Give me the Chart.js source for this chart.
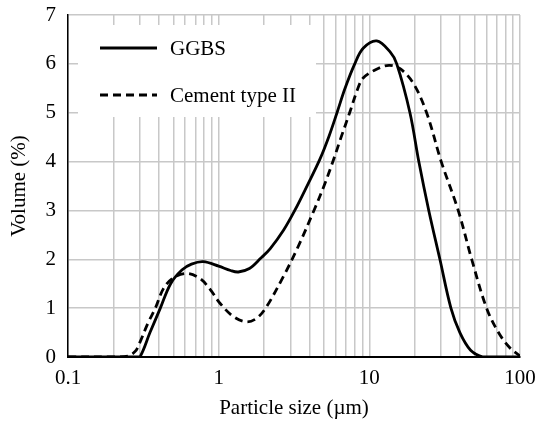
<!DOCTYPE html>
<html>
<head>
<meta charset="utf-8">
<script src="https://cdn.jsdelivr.net/npm/chart.js@4.4.1/dist/chart.umd.min.js"></script>
<style>
  html, body { margin: 0; padding: 0; background: #fff; }
  #wrap { width: 538px; height: 428px; }
</style>
</head>
<body>
<div id="wrap"><canvas id="psd" width="538" height="428"></canvas></div>
<script>
// 粒径分布曲线
const ggbsSize = [0.1, 0.2, 0.28, 0.3, 0.35, 0.41, 0.48, 0.57, 0.66, 0.79, 1.0, 1.2, 1.35, 1.6, 1.9, 2.2, 2.7, 3.2, 3.9, 4.7, 5.4, 6.1, 6.9, 8.0, 9.1, 11.2, 13.7, 15.2, 18.6, 21.3, 24.8, 29.4, 34.8, 39.9, 47, 57, 70, 100];
const ggbsVolume = [0, 0, 0, 0, 0.5, 1.0, 1.5, 1.78, 1.9, 1.95, 1.86, 1.77, 1.74, 1.81, 2.02, 2.22, 2.6, 3.0, 3.53, 4.05, 4.52, 5.0, 5.5, 6.0, 6.32, 6.47, 6.25, 6.0, 5.0, 4.0, 3.0, 2.0, 1.0, 0.5, 0.14, 0, 0, 0];

const cementSize = [0.1, 0.2, 0.25, 0.28, 0.3, 0.34, 0.38, 0.43, 0.5, 0.61, 0.75, 0.88, 1.02, 1.25, 1.53, 1.8, 2.08, 2.68, 3.29, 4.29, 5.0, 5.73, 6.5, 7.4, 8.4, 9.1, 11, 13.5, 16, 19.6, 24, 30, 38.9, 47.8, 60, 72, 85, 100];
const cementVolume = [0, 0, 0.02, 0.12, 0.3, 0.7, 1.0, 1.4, 1.62, 1.71, 1.61, 1.38, 1.1, 0.83, 0.72, 0.8, 1.03, 1.64, 2.19, 3.0, 3.5, 4.0, 4.5, 5.0, 5.5, 5.71, 5.88, 5.97, 5.9, 5.6, 5.0, 4.0, 3.0, 2.0, 1.0, 0.5, 0.2, 0.02];

const seriesNames = ['GGBS', 'Cement type II'];
const xTickLabels = [0.1, 1, 10, 100];
const yTicks = [0, 1, 2, 3, 4, 5, 6, 7];

// 对数网格: 每个十进位的 1..9 倍
const xGridValues = [];
for (let e = -1; e <= 1; e++) {
    for (let m = 1; m <= 9; m++) xGridValues.push(Number((m * Math.pow(10, e)).toPrecision(3)));
}
xGridValues.push(100);

const FONT = { family: "'Liberation Serif', 'Times New Roman', serif", size: 21 };
const GRID = '#c8c8c8';

function toPoints(xs, ys) {
    return xs.map((x, i) => ({ x: x, y: ys[i] }));
}

// 去掉标签带来的额外边距, 绘图区只由 layout.padding 决定
function noLabelPadding(axis) {
    axis.paddingTop = 0;
    axis.paddingBottom = 0;
    axis.paddingLeft = 0;
    axis.paddingRight = 0;
}

// 图内图例: 白底方框盖住网格线
const boxLegend = {
    id: 'boxLegend',
    afterDatasetsDraw(chart) {
        const ctx = chart.ctx;
        const left = chart.chartArea.left;
        const top = chart.chartArea.top;
        ctx.save();
        ctx.fillStyle = '#fff';
        ctx.fillRect(left + 10, top + 10, 238, 92);
        ctx.font = `${FONT.size}px ${FONT.family}`;
        ctx.textBaseline = 'middle';
        ctx.fillStyle = '#000';
        chart.data.datasets.forEach((ds, i) => {
            const y = top + 33 + i * 47;
            ctx.beginPath();
            ctx.lineWidth = ds.borderWidth;
            ctx.strokeStyle = ds.borderColor;
            ctx.setLineDash(ds.borderDash || []);
            ctx.moveTo(left + 32, y);
            ctx.lineTo(left + 89, y);
            ctx.stroke();
            ctx.setLineDash([]);
            ctx.fillText(ds.label, left + 102, y + 1);
        });
        ctx.restore();
    }
};

new Chart(document.getElementById('psd'), {
    type: 'line',
    data: {
        datasets: [{
            label: seriesNames[0],
            data: toPoints(ggbsSize, ggbsVolume),
            borderColor: '#000',
            borderWidth: 2.8,
            pointRadius: 0,
            tension: 0.35,
            fill: false
        }, {
            label: seriesNames[1],
            data: toPoints(cementSize, cementVolume),
            borderColor: '#000',
            borderWidth: 2.8,
            borderDash: [8, 5],
            pointRadius: 0,
            tension: 0.35,
            fill: false
        }]
    },
    options: {
        responsive: false,
        animation: false,
        layout: { padding: { left: 0, top: 15, right: 18, bottom: 0 } },
        plugins: { legend: { display: false }, tooltip: { enabled: false } },
        scales: {
            x: {
                type: 'logarithmic',
                min: 0.1,
                max: 100,
                afterBuildTicks: axis => { axis.ticks = xGridValues.map(v => ({ value: v })); },
                afterFit: axis => { axis.height = 71; noLabelPadding(axis); },
                grid: { color: GRID, lineWidth: 1.5, drawTicks: false },
                border: { color: '#000', width: 2 },
                ticks: {
                    autoSkip: false,
                    maxRotation: 0,
                    padding: 9,
                    color: '#000',
                    font: FONT,
                    callback: v => xTickLabels.includes(v) ? String(v) : ''
                },
                title: { display: true, text: 'Particle size (µm)', color: '#000', font: FONT, padding: { top: 0, bottom: 7 } }
            },
            y: {
                min: 0,
                max: 7,
                afterBuildTicks: axis => { axis.ticks = yTicks.map(v => ({ value: v })); },
                afterFit: axis => { axis.width = 68; noLabelPadding(axis); },
                grid: { color: GRID, lineWidth: 1.5, drawTicks: false },
                border: { color: '#000', width: 1.5 },
                ticks: { padding: 12, color: '#000', font: FONT },
                title: { display: true, text: 'Volume (%)', color: '#000', font: FONT, padding: { top: 7, bottom: 0 } }
            }
        }
    },
    plugins: [boxLegend]
});
</script>
</body>
</html>
